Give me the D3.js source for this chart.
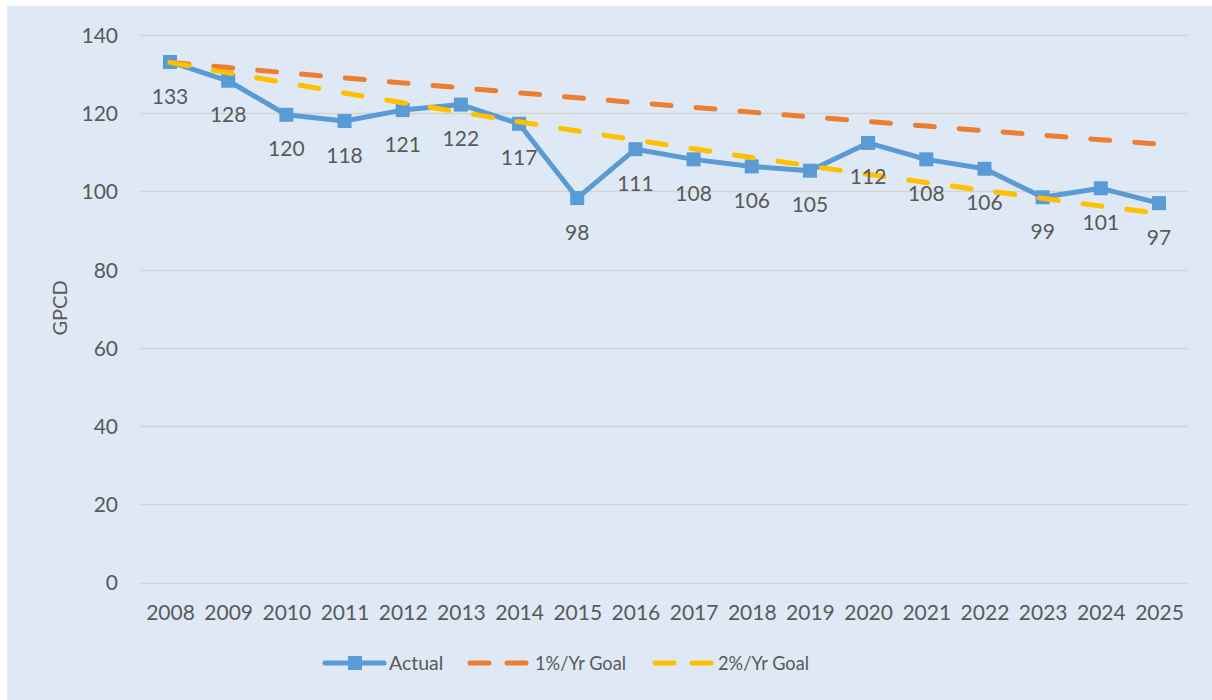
<!DOCTYPE html>
<html>
<head>
<meta charset="utf-8">
<script src="https://cdn.jsdelivr.net/npm/d3@7/dist/d3.min.js"></script>
<style>
  html, body { margin: 0; padding: 0; background: #ffffff; }
  svg text { font-family: Lato, "Open Sans", "DejaVu Sans", sans-serif; fill: #595959; }
</style>
</head>
<body>
<svg id="chart" width="1212" height="700"></svg>
<script>
const years = ["2008","2009","2010","2011","2012","2013","2014","2015","2016","2017","2018","2019","2020","2021","2022","2023","2024","2025"];
const actual = [133.1, 128.3, 119.6, 118.0, 120.8, 122.2, 117.3, 98.3, 110.8, 108.2, 106.4, 105.3, 112.4, 108.2, 105.8, 98.5, 100.8, 97.0];
const actualLabels = ["133","128","120","118","121","122","117","98","111","108","106","105","112","108","106","99","101","97"];
const goal1 = [133, 131.67, 130.35, 129.05, 127.76, 126.48, 125.22, 123.96, 122.72, 121.50, 120.28, 119.08, 117.89, 116.71, 115.54, 114.38, 113.24, 112.11];
const goal2 = [133, 130.34, 127.73, 125.18, 122.67, 120.22, 117.82, 115.46, 113.15, 110.89, 108.67, 106.50, 104.37, 102.28, 100.24, 98.23, 96.27, 94.35];
const yTicks = [0, 20, 40, 60, 80, 100, 120, 140];
const seriesNames = ["Actual", "1%/Yr Goal", "2%/Yr Goal"];
const colors = ["#5b9bd5", "#ed7d31", "#ffc000"];

const svg = d3.select("#chart");
svg.append("rect").attr("x", 7).attr("y", 6).attr("width", 1205).attr("height", 694).attr("fill", "#dee9f5");

const x = d3.scalePoint().domain(years).range([170, 1159]);
const y = d3.scaleLinear().domain([0, 140]).range([582.5, 35]);

// gridlines
const gy = svg.append("g");
gy.selectAll("line").data(yTicks).enter().append("line")
  .attr("x1", 140).attr("x2", 1188)
  .attr("y1", d => Math.round(y(d)) + 0.5).attr("y2", d => Math.round(y(d)) + 0.5)
  .attr("stroke", "#d3d3d0").attr("stroke-width", 1.5);

// y axis labels
const yAxis = d3.axisLeft(y).tickValues(yTicks).tickSize(0).tickPadding(0);
const ya = svg.append("g").attr("transform", "translate(118,0)").call(yAxis);
ya.select(".domain").remove();
ya.selectAll("text").attr("font-size", "21px").style("font-family", "Lato, sans-serif").attr("fill", "#595959").attr("dy", "0.35em");

// x axis labels
const xAxis = d3.axisBottom(x).tickSize(0).tickPadding(0);
const xa = svg.append("g").attr("transform", "translate(0,605)").call(xAxis);
xa.select(".domain").remove();
xa.selectAll("text").attr("font-size", "21px").style("font-family", "Lato, sans-serif").attr("fill", "#595959").attr("dy", "0.71em");

// y title
svg.append("text")
  .attr("transform", "translate(67,308) rotate(-90)")
  .attr("text-anchor", "middle").attr("font-size", "20px").text("GPCD");

const line = d3.line().x((d, i) => x(years[i])).y(d => y(d));

// actual
svg.append("path").datum(actual).attr("d", line)
  .attr("fill", "none").attr("stroke", colors[0]).attr("stroke-width", 5).attr("stroke-linejoin", "round");
svg.selectAll("rect.mk").data(actual).enter().append("rect").attr("class", "mk")
  .attr("x", (d, i) => x(years[i]) - 7).attr("y", d => y(d) - 7)
  .attr("width", 14).attr("height", 14).attr("fill", colors[0]);

// goals
[goal1, goal2].forEach((g, k) => {
  svg.append("path").datum(g).attr("d", line)
    .attr("fill", "none").attr("stroke", colors[k + 1]).attr("stroke-width", 5)
    .attr("stroke-dasharray", "19,25").attr("stroke-linecap", "round");
});

// data labels
svg.selectAll("text.dl").data(actual).enter().append("text").attr("class", "dl")
  .attr("x", (d, i) => x(years[i])).attr("y", d => y(d) + 34)
  .attr("dy", "0.36em").attr("text-anchor", "middle").attr("font-size", "21px")
  .text((d, i) => actualLabels[i]);

// legend
const lg = svg.append("g");
const ly = 663;
lg.append("line").attr("x1", 325).attr("x2", 384).attr("y1", ly).attr("y2", ly)
  .attr("stroke", colors[0]).attr("stroke-width", 5).attr("stroke-linecap", "round");
lg.append("rect").attr("x", 348).attr("y", ly - 7).attr("width", 14).attr("height", 14).attr("fill", colors[0]);
lg.append("text").attr("x", 389).attr("y", ly).attr("dy", "0.36em").attr("font-size", "19.5px").text(seriesNames[0]);

[[470, 507, 535], [655, 692, 718]].forEach((p, k) => {
  [p[0], p[1]].forEach(sx => {
    lg.append("line").attr("x1", sx).attr("x2", sx + 19).attr("y1", ly).attr("y2", ly)
      .attr("stroke", colors[k + 1]).attr("stroke-width", 5).attr("stroke-linecap", "round");
  });
  lg.append("text").attr("x", p[2]).attr("y", ly).attr("dy", "0.36em").attr("font-size", "19.5px")
    .attr("textLength", 91).attr("lengthAdjust", "spacingAndGlyphs").text(seriesNames[k + 1]);
});
</script>
</body>
</html>
